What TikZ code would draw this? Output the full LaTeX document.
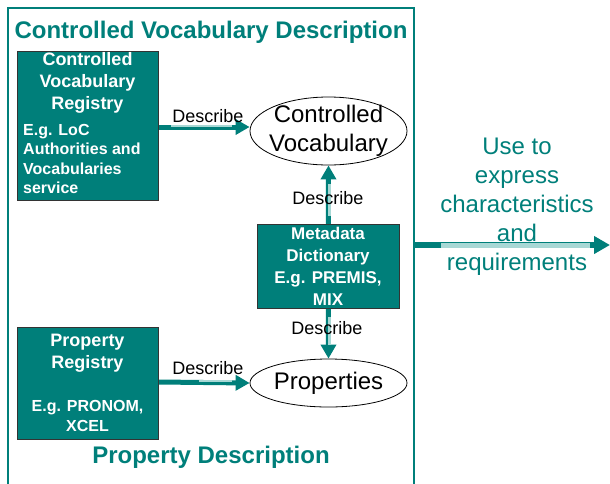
\documentclass[tikz,border=0pt]{standalone}
\usepackage{fontspec}
\setmainfont{Liberation Sans}
\usetikzlibrary{arrows.meta,shapes.geometric}
\definecolor{teal1}{HTML}{007F7A}
\definecolor{tlight}{HTML}{A8D8D5}
\tikzset{
  regbox/.style={draw=black!80, line width=0.8pt, fill=teal1, inner sep=0pt, anchor=north west},
  boxtxt/.style={text=white, font=\bfseries\fontsize{18}{22}\selectfont, align=center, inner sep=0pt},
  subtxt/.style={text=white, font=\bfseries\fontsize{16}{19.5}\selectfont, inner sep=0pt},
  ell/.style={draw=black, line width=0.8pt, ellipse, fill=white, inner sep=0pt},
  elltxt/.style={font=\fontsize{24}{29}\selectfont, align=center, inner sep=0pt},
  desc/.style={font=\fontsize{18}{21}\selectfont, inner sep=0pt},
  title/.style={text=teal1, font=\bfseries\fontsize{24}{29}\selectfont, inner sep=0pt},
  conn/.style={draw=teal1, line width=5pt, -{Triangle[length=14pt,width=15pt]}},
  hilite/.style={draw=tlight, line width=2.2pt},
}
\begin{document}
\begin{tikzpicture}[x=1pt,y=-1pt]
\useasboundingbox (0,0) rectangle (610,483);
% frame
\draw[teal1, line width=2.2pt] (8,495) -- (8,8) -- (414,8) -- (414,495);
\node[title] (t1) at (211,32) {Controlled Vocabulary Description};
\node[title] (t2) at (211,457) {Property Description};

% boxes
\node[regbox, minimum width=141pt, minimum height=149pt] (cvr) at (17,51) {};
\node[boxtxt] (cvrt) at (87.5,83) {Controlled\\Vocabulary\\Registry};
\node[subtxt, align=left, anchor=north west] (cvrs) at (23,124) {E.g. LoC\\Authorities and\\Vocabularies\\service};

\node[regbox, minimum width=142pt, minimum height=84pt] (md) at (257,224) {};
\node[boxtxt, font=\bfseries\fontsize{17}{22}\selectfont] (mdt) at (328,266) {Metadata\\Dictionary\\E.g. PREMIS,\\MIX};

\node[regbox, minimum width=141pt, minimum height=112pt] (pr) at (17,327) {};
\node[boxtxt] (prt) at (87.5,353) {Property\\Registry};
\node[subtxt, align=center] (prs) at (87.5,416) {E.g. PRONOM,\\XCEL};

% ellipses
\node[ell, minimum width=157pt, minimum height=68pt] (cv) at (328.5,131) {};
\node[elltxt] (cvt) at (328.5,131) {Controlled\\Vocabulary};
\node[ell, minimum width=157pt, minimum height=48pt] (pp) at (328.5,383) {};
\node[elltxt] (ppt) at (328.5,383) {Properties};

% connectors
\draw[conn] (cvr.east |- 0,127) -- (cv.west |- 0,127);
\draw[hilite] ([xshift=12pt]cvr.east |- 0,126) -- ([xshift=-18pt]cv.west |- 0,126);
\node[desc] (d1) at (208,116) {Describe};

\draw[conn] (pr.east |- 0,382) -- (pp.west);
\draw[hilite] ([xshift=40pt]pr.east |- 0,381) -- ([xshift=-18pt]pp.west |- 0,381);
\node[desc] (d2) at (208,368) {Describe};

\draw[conn] (md.north) -- (cv.south);
\draw[hilite] ([xshift=1pt,yshift=8pt]md.north) -- ([xshift=1pt,yshift=40pt]md.north);
\node[desc] (d3) at (328,198) {Describe};

\draw[conn] (md.south) -- (pp.north);
\draw[hilite] ([xshift=1pt,yshift=-8pt]md.south) -- ([xshift=1pt,yshift=-36pt]md.south);
\node[desc] (d4) at (327,328) {Describe};

% right arrow
\coordinate (ra) at (414,245);
\coordinate (rb) at (610,245);
\draw[draw=teal1, line width=6pt, -{Triangle[length=16pt,width=17pt]}] (ra) -- (rb);
\draw[draw=tlight, line width=5pt] ([xshift=27pt]ra) -- ([xshift=-20pt]rb);
\node[text=teal1, font=\fontsize{24}{29}\selectfont, align=center, inner sep=0pt] (use) at (517,207) {Use to\\express\\characteristics\\and\\requirements};
\end{tikzpicture}
\end{document}
